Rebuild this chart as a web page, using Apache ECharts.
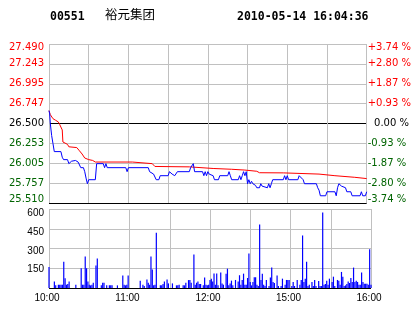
<!DOCTYPE html>
<html><head><meta charset="utf-8">
<script src="https://cdn.jsdelivr.net/npm/echarts@6/dist/echarts.min.js"></script>
<style>html,body{margin:0;padding:0;background:#fff}#c{width:414px;height:314px}</style>
</head><body><div id="c"></div>
<script>
const stockCode = '00551';
const stockName = '裕元集团';
const stamp = '2010-05-14 16:04:36';
const timeLabels = ['10:00','11:00','12:00','15:00','16:00'];
const priceTicks = ['25.510','25.757','26.005','26.253','26.500','26.747','26.995','27.243','27.490'];
const pctTicks = ['-3.74 %','-2.80 %','-1.87 %','-0.93 %','\u20070.00 %','+0.93 %','+1.87 %','+2.80 %','+3.74 %'];
const volTicks = ['', '150', '300', '450', '600'];

// [minute since 10:00 (trading minutes), price]
const priceLine = [[0,26.66],[0.5,26.62],[1,26.50],[2,26.35],[3,26.25],[4,26.15],[9,26.15],[10,26.08],[11,26.05],[14,26.05],[15,26.00],[16,26.00],[17,26.03],[20,26.04],[21,26.05],[22,26.02],[23,26.00],[24,25.95],[26,25.95],[27,25.90],[28,25.82],[29,25.75],[30,25.80],[35,25.80],[36,26.00],[41,26.00],[42,25.95],[43,26.00],[44,25.95],[58,25.95],[59,25.90],[60,25.95],[75,25.95],[76,25.90],[79,25.87],[80,25.85],[81,25.80],[83,25.80],[84,25.85],[90,25.85],[91,25.90],[93,25.87],[95,25.85],[96,25.85],[97,25.90],[106,25.90],[107,25.95],[108,25.95],[109,26.00],[110,25.90],[116,25.90],[117,25.85],[118,25.90],[119,25.85],[120,25.90],[121,25.87],[122,25.85],[124,25.85],[125,25.80],[128,25.80],[129,25.85],[135,25.85],[136,25.90],[137,25.85],[138,25.80],[143,25.80],[144,25.85],[145,25.80],[146,25.85],[147,25.90],[148,25.85],[149,25.90],[150,25.75],[151,25.80],[152,25.75],[153,25.78],[154,25.75],[156,25.73],[157,25.70],[159,25.70],[160,25.75],[161,25.72],[162,25.70],[165,25.70],[166,25.75],[167,25.70],[168,25.75],[169,25.80],[177,25.80],[178,25.85],[179,25.80],[180,25.85],[181,25.80],[188,25.80],[189,25.85],[190,25.83],[192,25.80],[193,25.75],[202,25.75],[203,25.70],[204,25.67],[205,25.60],[207,25.60],[208,25.62],[209,25.60],[210,25.65],[216,25.65],[217,25.60],[218,25.70],[219,25.75],[220,25.75],[221,25.72],[222,25.70],[224,25.70],[225,25.65],[228,25.65],[229,25.60],[235,25.60],[236,25.65],[237,25.60],[239,25.60],[240,25.65]];

const avgLine = [[0,26.66],[1,26.61],[3,26.56],[5,26.54],[7,26.52],[8,26.49],[9,26.47],[10,26.42],[10.5,26.27],[11,26.25],[14,26.24],[15,26.21],[21,26.20],[23,26.16],[25,26.12],[26,26.10],[27,26.07],[30,26.05],[33,26.04],[35,26.02],[63,26.02],[64,26.00],[78,26.00],[79,25.98],[80,25.965],[106,25.96],[107,25.945],[124,25.94],[125,25.935],[138,25.93],[139,25.922],[148,25.92],[149,25.91],[157,25.905],[159,25.887],[177,25.885],[178,25.873],[204,25.87],[205,25.851],[216,25.85],[217,25.835],[231,25.83],[232,25.818],[240,25.814]];

const volume = [[0,160],[4,50],[5,20],[7,25],[8,25],[9,25],[10,25],[11,200],[12,75],[13,25],[14,30],[15,50],[20,25],[24,150],[25,25],[26,25],[27,240],[28,150],[29,50],[30,25],[31,20],[32,25],[33,40],[35,170],[36,225],[39,20],[40,40],[41,40],[43,20],[45,20],[46,20],[47,20],[51,20],[55,95],[56,25],[57,20],[58,25],[59,95],[68,55],[70,25],[71,15],[73,65],[74,40],[75,25],[76,240],[77,140],[78,20],[79,25],[80,420],[83,20],[84,20],[85,30],[86,50],[88,65],[89,35],[92,35],[95,20],[96,20],[97,25],[100,20],[101,20],[102,40],[104,60],[105,60],[106,40],[108,255],[109,25],[110,40],[111,50],[112,30],[113,30],[115,20],[116,80],[117,25],[118,20],[119,25],[120,60],[121,70],[122,50],[123,110],[124,25],[125,110],[126,20],[128,117],[129,35],[130,25],[132,109],[133,147],[134,20],[135,35],[136,56],[137,20],[139,61],[141,50],[142,97],[143,25],[144,61],[145,109],[146,25],[147,25],[148,76],[149,262],[150,46],[151,20],[152,46],[153,81],[154,81],[155,25],[156,15],[157,483],[158,61],[159,109],[160,25],[161,15],[162,61],[164,15],[165,79],[166,155],[167,46],[168,38],[170,94],[171,15],[173,15],[174,71],[176,25],[177,61],[178,61],[179,61],[181,15],[182,46],[183,15],[185,61],[187,25],[188,61],[189,399],[190,46],[191,71],[192,200],[193,15],[194,25],[196,46],[197,15],[198,61],[199,15],[201,53],[202,15],[203,15],[204,574],[205,25],[206,30],[207,56],[208,25],[209,71],[211,46],[212,86],[213,15],[215,61],[216,56],[217,25],[218,122],[219,86],[220,15],[221,20],[222,30],[223,50],[224,38],[225,76],[226,46],[227,155],[228,46],[229,56],[230,46],[231,25],[232,25],[233,117],[234,46],[235,33],[236,33],[237,33],[238,25],[239,295],[240,25]];

const RED = '#ff0000', GREEN = '#006400', BLACK = '#000000', GRID = '#c0c0c0', BLUE = '#0000ff';
const PF = 'DejaVu Sans';
const AF = 'Liberation Sans';

function priceStyle(i){
  if (i === 8) return 'rt';
  if (i > 4) return 'r';
  if (i === 4) return 'k';
  if (i === 0) return 'gb';
  return 'g';
}
const richPrice = {
  r:{color:RED,fontFamily:PF,fontSize:10},
  rt:{color:RED,fontFamily:PF,fontSize:10,padding:[6,0,0,0]},
  k:{color:BLACK,fontFamily:PF,fontSize:10},
  g:{color:GREEN,fontFamily:PF,fontSize:10},
  gb:{color:GREEN,fontFamily:PF,fontSize:10,padding:[0,0,7,0]}
};
const richVol = {
  a:{color:BLACK,fontFamily:AF,fontSize:10,padding:[8,0,0,0]},
  b:{color:BLACK,fontFamily:AF,fontSize:10,padding:[6,0,0,0]},
  c:{color:BLACK,fontFamily:AF,fontSize:10,padding:[5,0,0,0]},
  d:{color:BLACK,fontFamily:AF,fontSize:10,padding:[2,0,0,0]}
};
const volStyleKey = ['', 'd', 'c', 'b', 'a'];

const chart = echarts.init(document.getElementById('c'), null, {renderer:'canvas'});
const gridColorsPrice = [BLACK, GRID, GRID, GRID, BLACK, GRID, GRID, GRID, GRID];
const gridColorsVol = [BLACK, GRID, GRID, GRID, GRID];

chart.setOption({
  animation:false,
  backgroundColor:'#ffffff',
  title:[
    {text:stockCode, left:45, top:6, textStyle:{fontFamily:'DejaVu Sans Mono',fontWeight:'bold',fontSize:11.5,color:BLACK}},
    {text:stockName, left:100, top:3, textStyle:{fontFamily:'Noto Sans CJK SC',fontWeight:'normal',fontSize:12.5,color:BLACK}},
    {text:stamp, left:232, top:6, textStyle:{fontFamily:'DejaVu Sans Mono',fontWeight:'bold',fontSize:11.5,color:BLACK}}
  ],
  grid:[
    {left:49, top:44, width:322, height:159},
    {left:49, top:209, width:322, height:79}
  ],
  xAxis:[
    {type:'value', gridIndex:0, min:0, max:240, interval:30,
      axisLine:{show:false}, axisTick:{show:false}, axisLabel:{show:false},
      splitLine:{show:true, lineStyle:{color:GRID, width:1}}},
    {type:'value', gridIndex:1, min:0, max:240, interval:30,
      axisLine:{show:false}, axisTick:{show:false},
      axisLabel:{show:true, margin:5, fontFamily:AF, fontSize:10, color:BLACK, padding:[0,4,0,0],
        formatter:function(v){ return v % 60 === 0 ? timeLabels[v/60] : ''; }},
      splitLine:{show:true, lineStyle:{color:GRID, width:1}}}
  ],
  yAxis:[
    {type:'value', gridIndex:0, min:25.51, max:27.49, show:false, splitLine:{show:false}},
    {type:'value', gridIndex:0, position:'left', min:0, max:8, interval:1,
      axisLine:{show:false}, axisTick:{show:false},
      axisLabel:{margin:5, formatter:function(v){ return '{' + priceStyle(v) + '|' + priceTicks[v] + '}'; }, rich:richPrice},
      splitLine:{show:true, lineStyle:{color:gridColorsPrice, width:1}}},
    {type:'value', gridIndex:0, position:'right', min:0, max:8, interval:1,
      axisLine:{show:false}, axisTick:{show:false},
      axisLabel:{margin:1, formatter:function(v){ return '{' + priceStyle(v) + '|' + pctTicks[v] + '}'; }, rich:richPrice},
      splitLine:{show:false}},
    {type:'value', gridIndex:1, min:0, max:600, interval:150,
      axisLine:{show:false}, axisTick:{show:false},
      axisLabel:{margin:5, formatter:function(v){ const k = v/150; return volTicks[k] ? '{' + volStyleKey[k] + '|' + volTicks[k] + '}' : ''; }, rich:richVol},
      splitLine:{show:true, lineStyle:{color:gridColorsVol, width:1}}}
  ],
  series:[
    {type:'line', xAxisIndex:0, yAxisIndex:0, data:avgLine, symbol:'none', lineStyle:{color:RED, width:1}, itemStyle:{color:RED}, z:3},
    {type:'line', xAxisIndex:0, yAxisIndex:0, data:priceLine, symbol:'none', lineStyle:{color:BLUE, width:1}, itemStyle:{color:BLUE}, z:4},
    {type:'bar', xAxisIndex:1, yAxisIndex:3, data:volume, barWidth:1.2, itemStyle:{color:BLUE}, z:3}
  ]
});
</script>
</body></html>
